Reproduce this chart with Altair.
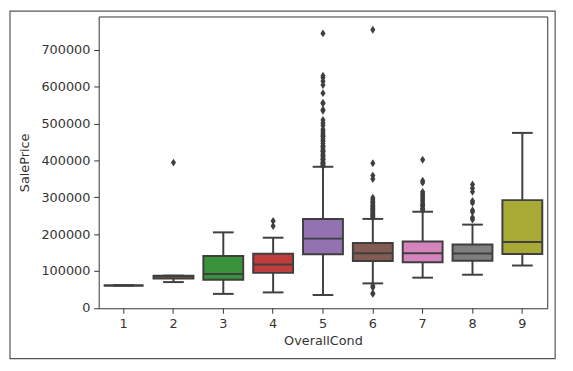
import altair as alt
import pandas as pd

cats = [1, 2, 3, 4, 5, 6, 7, 8, 9]
q1 = [61000, 80000, 76500, 95000, 145600, 127000, 124000, 128000, 146500]
med = [61000, 85000, 92000, 117500, 188000, 148000, 148000, 147500, 179000]
q3 = [61000, 87500, 141000, 147000, 241500, 176000, 180000, 172000, 292500]
wlo = [61000, 70000, 38000, 42000, 34900, 66500, 82000, 90000, 115000]
whi = [61000, 87500, 205000, 190500, 383000, 241500, 261000, 226000, 475000]
colors = ["#3274a1", "#e1812c", "#3a923a", "#c03d3e", "#9372b2",
          "#845b53", "#d684bd", "#7f7f7f", "#a9aa35"]

out_2 = [394432]
out_4 = [222000, 236000]
out_5 = [745000, 630000, 625000, 615000, 605000, 582933, 556581, 555000,
         538000, 535000, 510000, 501837, 495000, 485000, 480000, 475000,
         470000, 466500, 465000, 460000, 455000, 451950, 446261, 440000,
         438780, 435000, 430000, 426000, 424870, 423000, 418000, 415298,
         412500, 410000, 406000, 402861, 402000, 398000, 394617, 392500,
         392000, 389000, 386250, 385000]
out_6 = [755000, 392500, 359100, 350000, 299000, 295000, 290000, 287000,
         285000, 280000, 277000, 275000, 272000, 270000, 268000, 265000,
         262000, 260000, 257000, 255000, 252000, 250000, 248000, 245000,
         60000, 55000, 40000, 37900]
out_7 = [402000, 345000, 340000, 315000, 310000, 305000, 300000, 295000,
         290000, 285000, 280000, 277000, 275000, 270000, 268000, 265000]
out_8 = [335000, 325000, 315000, 290000, 285000, 265000, 260000, 245000,
         240000]

y_ticks = [0, 100000, 200000, 300000, 400000, 500000, 600000, 700000]

LINE = "#3f3f3f"
TEXT = "#333333"

stats = pd.DataFrame({"OverallCond": cats, "q1": q1, "med": med, "q3": q3,
                      "wlo": wlo, "whi": whi, "color": colors})
rows = []
for c, vals in [(2, out_2), (4, out_4), (5, out_5), (6, out_6), (7, out_7), (8, out_8)]:
    for v in vals:
        rows.append({"OverallCond": c, "SalePrice": v})
outl = pd.DataFrame(rows)

xenc = alt.X("OverallCond:O", title="OverallCond",
             scale=alt.Scale(paddingInner=0, paddingOuter=0),
             axis=alt.Axis(labelAngle=0, titlePadding=5))
yscale = alt.Scale(domain=[-1100, 791000], nice=False, zero=False)
yaxis = alt.Axis(values=y_ticks, format="d", grid=False, titlePadding=10)

base = alt.Chart(stats)

whisk = base.mark_rule(color=LINE, strokeWidth=2).encode(
    x=xenc,
    y=alt.Y("wlo:Q", title="SalePrice", scale=yscale, axis=yaxis),
    y2="whi:Q",
)
box = base.mark_bar(width=alt.RelativeBandSize(0.8), stroke=LINE, strokeWidth=2).encode(
    x=xenc,
    y=alt.Y("q1:Q", scale=yscale),
    y2="q3:Q",
    color=alt.Color("color:N", scale=None),
)
median = base.mark_tick(color=LINE, size=40, thickness=2, opacity=1).encode(
    x=xenc, y=alt.Y("med:Q", scale=yscale))
cap_lo = base.mark_tick(color=LINE, size=21, thickness=2, opacity=1).encode(
    x=xenc, y=alt.Y("wlo:Q", scale=yscale))
cap_hi = base.mark_tick(color=LINE, size=21, thickness=2, opacity=1).encode(
    x=xenc, y=alt.Y("whi:Q", scale=yscale))
pts = alt.Chart(outl).mark_point(
    shape="M0,-1L0.65,0L0,1L-0.65,0Z", filled=True, size=64, color=LINE, opacity=1
).encode(x=xenc, y=alt.Y("SalePrice:Q", scale=yscale))

border = alt.Chart(pd.DataFrame({"a": [0]})).mark_rect(
    fill="transparent", stroke="#555555", strokeWidth=1.2
).encode(x=alt.value(-90), x2=alt.value(463), y=alt.value(-5.5), y2=alt.value(347))

chart = alt.layer(border, whisk, box, median, cap_lo, cap_hi, pts).properties(
    width=455, height=296,
    autosize=alt.AutoSizeParams(type="none"),
    padding={"left": 92, "top": 6, "right": 18, "bottom": 60},
).configure_view(
    stroke="#333333", strokeWidth=1
).configure_axis(
    labelFont="DejaVu Sans", titleFont="DejaVu Sans",
    labelFontSize=13, titleFontSize=13, titleFontWeight="normal",
    labelColor=TEXT, titleColor=TEXT,
    tickColor="#333333", tickSize=5, tickWidth=1, labelPadding=4,
    domain=False,
)

chart.save("out.html", embed_options={"renderer": "svg", "actions": False})
